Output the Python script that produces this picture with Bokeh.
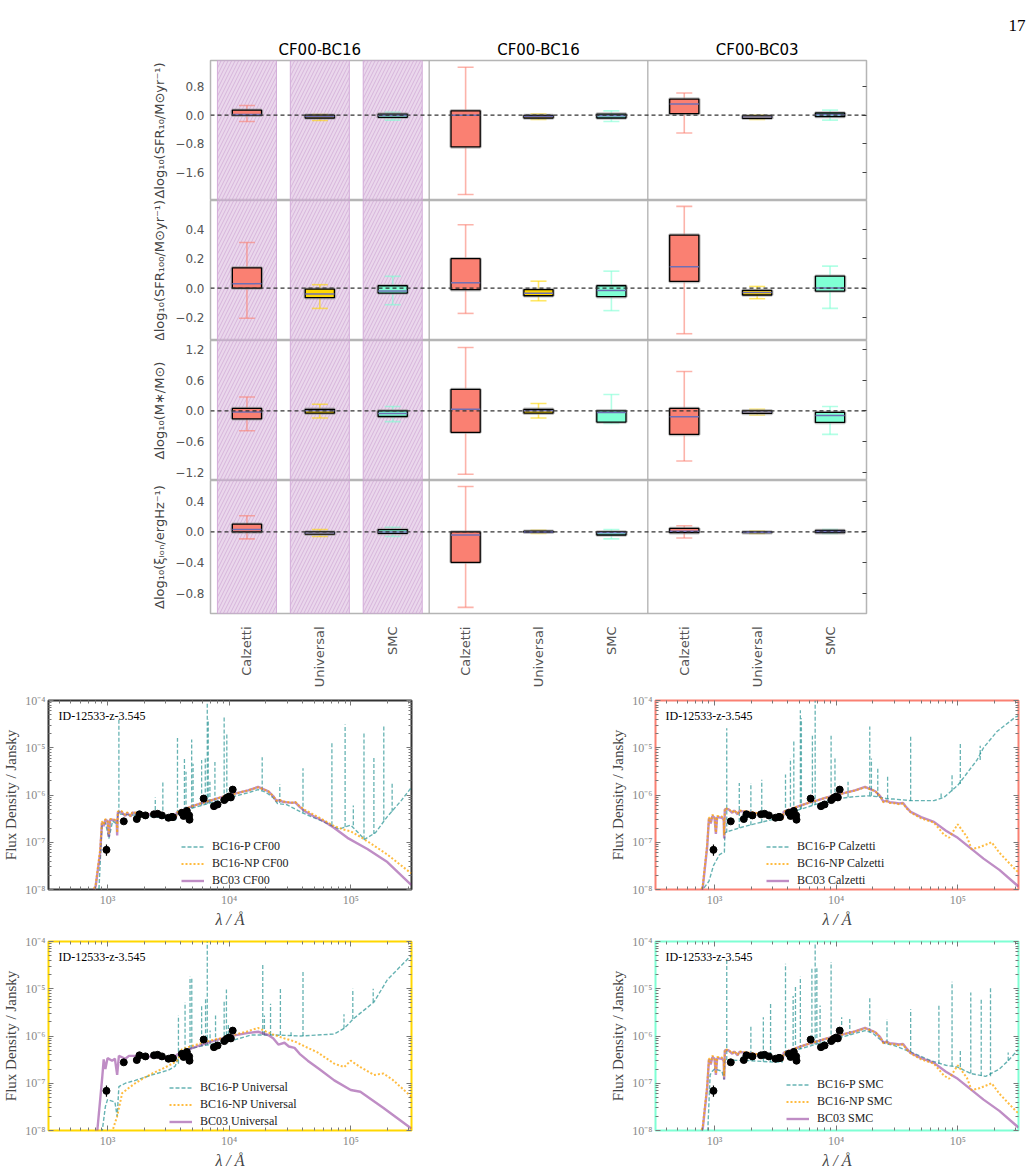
import math
from bokeh.plotting import figure
from bokeh.models import (ColumnDataSource, FixedTicker, LinearAxis, LogAxis, Span, Label,
                          Legend, LegendItem, Range1d, CustomJSTickFormatter,
                          BoxAnnotation, Spacer, Title)
from bokeh.layouts import column, row
from bokeh.transform import dodge
from bokeh.embed import file_html
from bokeh.resources import INLINE

# ======================= DATA: box-plot grid =======================
categories = ["Calzetti", "Universal", "SMC"] * 3
positions = [1, 2, 3, 4, 5, 6, 7, 8, 9]
group_titles = ["CF00-BC16", "CF00-BC16", "CF00-BC03"]
group_centers = [2, 5, 8]
box_colors = ["#FA8072", "#FFD700", "#7FFFD4"] * 3

sfr10_q1 = [0.00, -0.08, -0.06, -0.89, -0.08, -0.08, 0.04, -0.09, -0.04]
sfr10_q3 = [0.14, 0.00, 0.03, 0.12, -0.01, 0.03, 0.45, -0.02, 0.06]
sfr10_med = [0.02, -0.04, -0.01, 0.00, -0.04, -0.02, 0.31, -0.05, 0.01]
sfr10_lo = [-0.18, -0.15, -0.14, -2.22, -0.12, -0.18, -0.50, -0.12, -0.14]
sfr10_hi = [0.27, 0.02, 0.08, 1.34, 0.03, 0.12, 0.62, 0.00, 0.14]

sfr100_q1 = [0.00, -0.065, -0.034, -0.011, -0.052, -0.058, 0.045, -0.047, -0.020]
sfr100_q3 = [0.138, -0.007, 0.016, 0.200, -0.010, 0.016, 0.360, -0.016, 0.081]
sfr100_med = [0.030, -0.040, -0.020, 0.036, -0.035, -0.016, 0.145, -0.030, 0.000]
sfr100_lo = [-0.205, -0.138, -0.113, -0.172, -0.086, -0.153, -0.310, -0.072, -0.138]
sfr100_hi = [0.310, 0.023, 0.080, 0.430, 0.047, 0.115, 0.555, 0.011, 0.149]

mstar_q1 = [-0.156, -0.045, -0.110, -0.420, -0.045, -0.220, -0.460, -0.050, -0.227]
mstar_q3 = [0.047, 0.030, 0.000, 0.420, 0.030, 0.000, 0.047, 0.000, -0.030]
mstar_med = [-0.020, 0.000, -0.050, 0.030, 0.000, -0.030, -0.117, -0.020, -0.090]
mstar_lo = [-0.390, -0.140, -0.210, -1.240, -0.140, -0.245, -0.980, -0.080, -0.460]
mstar_hi = [0.270, 0.130, 0.086, 1.240, 0.145, 0.320, 0.770, 0.030, 0.086]

xi_q1 = [0.000, -0.030, -0.020, -0.395, -0.005, -0.040, -0.010, -0.010, -0.010]
xi_q3 = [0.100, 0.000, 0.030, 0.000, 0.010, 0.000, 0.045, 0.000, 0.020]
xi_med = [0.030, -0.015, 0.000, -0.040, 0.000, -0.010, 0.010, -0.005, 0.005]
xi_lo = [-0.090, -0.060, -0.060, -0.980, -0.020, -0.090, -0.080, -0.020, -0.020]
xi_hi = [0.210, 0.030, 0.060, 0.590, 0.020, 0.030, 0.080, 0.010, 0.030]

row_ticks = [[-1.6, -0.8, 0.0, 0.8], [-0.2, 0.0, 0.2, 0.4],
             [-1.2, -0.6, 0.0, 0.6, 1.2], [-0.8, -0.4, 0.0, 0.4]]
row_ranges = [(-2.39, 1.53), (-0.356, 0.595), (-1.362, 1.376), (-1.06, 0.668)]
row_labels = ["\u0394log\u2081\u2080(SFR\u2081\u2080/M\u2299yr\u207b\u00b9)",
              "\u0394log\u2081\u2080(SFR\u2081\u2080\u2080/M\u2299yr\u207b\u00b9)",
              "\u0394log\u2081\u2080(M\u2217/M\u2299)",
              "\u0394log\u2081\u2080(\u03be\u1d62\u2092\u2099/ergHz\u207b\u00b9)"]
page_number = "17"

# ======================= DATA: SEDs (rest-frame Angstrom, Jansky) =======================
phot_wl = [980, 1360, 1740, 1830, 2050, 2410, 2580, 2800, 3170, 3390, 3450, 4080,
           4220, 4490, 4690, 4720, 6170, 7500, 8030, 9120, 9550, 10000, 10330, 10700]
phot_f = [6.9e-8, 2.77e-7, 3.1e-7, 3.9e-7, 3.7e-7, 3.9e-7, 4.0e-7, 3.7e-7, 3.3e-7, 3.45e-7,
          3.4e-7, 4.2e-7, 3.6e-7, 4.6e-7, 3.7e-7, 3.0e-7, 8.4e-7, 5.8e-7, 6.3e-7, 7.8e-7,
          8.7e-7, 9.3e-7, 8.9e-7, 1.3e-6]
phot_lo = [5.2e-8, 2.6e-7, 2.95e-7, 3.75e-7, 3.55e-7, 3.75e-7, 3.85e-7, 3.55e-7, 3.15e-7, 3.3e-7,
           3.25e-7, 4.0e-7, 3.45e-7, 4.4e-7, 3.55e-7, 2.85e-7, 8.1e-7, 5.6e-7, 6.1e-7, 7.5e-7,
           8.4e-7, 9.0e-7, 8.6e-7, 1.25e-6]
phot_hi = [9.0e-8, 2.95e-7, 3.25e-7, 4.05e-7, 3.85e-7, 4.05e-7, 4.15e-7, 3.85e-7, 3.45e-7, 3.6e-7,
           3.55e-7, 4.4e-7, 3.75e-7, 4.8e-7, 3.85e-7, 3.15e-7, 8.7e-7, 6.0e-7, 6.5e-7, 8.1e-7,
           9.0e-7, 9.6e-7, 9.2e-7, 1.35e-6]

bc03_cf00 = [(700, 5e-9), (800, 1.2e-8), (870, 6e-8), (900, 2.6e-7), (930, 2.2e-7), (960, 3.0e-7),
             (1000, 2.8e-7), (1026, 1.3e-7), (1050, 3.0e-7), (1100, 3.0e-7), (1190, 2.8e-7),
             (1200, 1.4e-7), (1216, 4.3e-7), (1300, 4.4e-7), (1400, 3.6e-7), (1450, 4.2e-7),
             (1550, 3.5e-7), (1600, 4.2e-7), (2000, 4.0e-7), (2500, 3.8e-7), (3000, 3.4e-7),
             (3500, 3.4e-7), (3640, 3.2e-7), (3700, 4.2e-7), (4000, 4.6e-7), (4300, 5.0e-7),
             (5000, 5.8e-7), (6000, 6.8e-7), (7000, 7.6e-7), (8000, 8.5e-7), (10000, 1.0e-6),
             (12000, 1.12e-6), (14300, 1.25e-6), (17300, 1.48e-6), (19500, 1.3e-6), (21000, 1.2e-6),
             (23000, 9.5e-7), (24500, 7.5e-7), (26000, 7.8e-7), (27500, 7.2e-7), (30000, 7.0e-7),
             (33000, 6.8e-7), (35000, 7.0e-7), (38000, 5.6e-7), (41600, 4.6e-7), (50000, 3.5e-7),
             (60600, 2.75e-7), (73200, 2.0e-7), (94000, 1.24e-7), (137000, 7.2e-8),
             (200000, 3.8e-8), (314000, 1.26e-8)]
np_cf00 = [(700, 5e-9), (800, 1.3e-8), (870, 7e-8), (900, 2.8e-7), (930, 2.4e-7), (960, 3.1e-7),
           (1000, 2.9e-7), (1026, 1.5e-7), (1050, 3.1e-7), (1100, 3.1e-7), (1190, 2.9e-7),
           (1200, 1.6e-7), (1216, 4.5e-7), (1300, 4.6e-7), (1400, 3.8e-7), (1450, 4.3e-7),
           (1550, 3.6e-7), (1600, 4.3e-7), (2000, 4.1e-7), (2500, 3.8e-7), (3000, 3.4e-7),
           (3500, 3.4e-7), (3640, 3.2e-7), (3700, 4.2e-7), (4000, 4.7e-7), (4300, 5.0e-7),
           (5000, 5.8e-7), (6000, 6.8e-7), (7000, 7.6e-7), (8000, 8.5e-7), (10000, 1.0e-6),
           (12000, 1.12e-6), (14300, 1.25e-6), (17300, 1.45e-6), (19500, 1.3e-6), (21000, 1.2e-6),
           (23000, 9.5e-7), (24500, 7.6e-7), (26000, 7.9e-7), (27500, 7.3e-7), (30000, 7.1e-7),
           (33000, 6.9e-7), (35000, 7.1e-7), (38000, 5.8e-7), (41600, 4.9e-7), (50000, 3.8e-7),
           (60600, 2.9e-7), (73200, 2.2e-7), (85000, 1.9e-7), (100000, 1.7e-7), (120000, 1.3e-7),
           (150000, 9e-8), (200000, 5.5e-8), (314000, 2.2e-8)]
p_cf00 = [(700, 5e-9), (850, 1.0e-8), (900, 2.2e-7), (960, 2.6e-7), (1026, 1.2e-7), (1100, 2.8e-7),
          (1200, 2.4e-7), (1216, 4.0e-7), (1500, 3.8e-7), (2000, 3.7e-7), (3000, 3.2e-7),
          (3640, 3.0e-7), (3700, 3.9e-7), (5000, 5.3e-7), (7000, 6.8e-7), (10000, 8.8e-7),
          (14000, 1.1e-6), (17300, 1.3e-6), (20000, 1.15e-6), (23000, 8.8e-7), (25000, 6.6e-7),
          (30000, 6.2e-7), (40000, 4.2e-7), (60000, 2.7e-7), (80000, 1.9e-7), (90000, 2.1e-7),
          (100000, 2.3e-7), (110000, 1.8e-7), (130000, 1.15e-7), (160000, 1.6e-7),
          (200000, 3.5e-7), (260000, 7.6e-7), (316000, 1.45e-6)]
lines_cf00 = [(1240, 4.0e-7, 3.9e-5), (2470, 3.6e-7, 8.9e-7), (2850, 3.5e-7, 1.86e-6),
              (3760, 4.0e-7, 1.6e-5), (4290, 4.6e-7, 5.9e-6), (4420, 4.7e-7, 3.1e-6),
              (4920, 5.2e-7, 1.5e-5), (5050, 5.3e-7, 4.6e-6), (5940, 6.0e-7, 5.5e-6),
              (6365, 6.3e-7, 6.3e-6), (6610, 6.5e-7, 9.3e-5), (6736, 6.6e-7, 4.0e-5),
              (6950, 6.8e-7, 1.9e-6), (7640, 7.2e-7, 5.0e-6), (9100, 8.0e-7, 4.6e-5),
              (9570, 8.4e-7, 2.1e-5), (10450, 9.0e-7, 1.05e-6), (18700, 1.25e-6, 6.3e-6),
              (26100, 6.8e-7, 1.66e-6), (40500, 4.2e-7, 3.7e-6), (70000, 2.3e-7, 1.3e-5),
              (89900, 2.1e-7, 3.1e-5), (105000, 2.3e-7, 6.0e-7), (128500, 1.15e-7, 2.1e-5),
              (155000, 1.5e-7, 6.3e-6), (187000, 2.9e-7, 2.8e-5), (219000, 4.4e-7, 1.9e-6)]

bc03_calz = [(700, 5e-9), (800, 1.1e-8), (870, 8e-8), (900, 3.2e-7), (930, 2.5e-7), (960, 3.6e-7),
             (1000, 3.3e-7), (1026, 1.5e-7), (1050, 3.4e-7), (1150, 3.3e-7), (1190, 3.0e-7),
             (1200, 1.2e-7), (1216, 5.0e-7), (1300, 5.0e-7), (1400, 4.2e-7), (1450, 4.7e-7),
             (1550, 3.9e-7), (1600, 4.6e-7), (2000, 4.3e-7), (2500, 3.9e-7), (3000, 3.4e-7),
             (3500, 3.3e-7), (3640, 3.1e-7), (3700, 4.4e-7), (4000, 4.8e-7), (4300, 5.1e-7),
             (5000, 5.9e-7), (6000, 6.9e-7), (7000, 7.7e-7), (8000, 8.6e-7), (10000, 1.0e-6),
             (12000, 1.12e-6), (14300, 1.25e-6), (17300, 1.48e-6), (19500, 1.3e-6), (21000, 1.2e-6),
             (23000, 9.5e-7), (24500, 7.2e-7), (26000, 7.6e-7), (27500, 7.0e-7), (30000, 6.9e-7),
             (33000, 6.6e-7), (35500, 6.8e-7), (38000, 5.4e-7), (41000, 4.4e-7), (50000, 3.4e-7),
             (63700, 2.7e-7), (80000, 1.75e-7), (100000, 1.24e-7), (163000, 4.5e-8),
             (220000, 2.6e-8), (304000, 1.26e-8), (316000, 1.15e-8)]
np_calz = [(700, 5e-9), (800, 1.2e-8), (870, 9e-8), (900, 3.4e-7), (930, 2.7e-7), (960, 3.8e-7),
           (1000, 3.5e-7), (1026, 1.6e-7), (1050, 3.6e-7), (1150, 3.5e-7), (1190, 3.1e-7),
           (1200, 1.4e-7), (1216, 5.2e-7), (1300, 5.1e-7), (1400, 4.3e-7), (1450, 4.8e-7),
           (1550, 4.0e-7), (1600, 4.7e-7), (2000, 4.4e-7), (2500, 3.9e-7), (3000, 3.4e-7),
           (3500, 3.3e-7), (3640, 3.1e-7), (3700, 4.4e-7), (4000, 4.8e-7), (4300, 5.1e-7),
           (5000, 5.9e-7), (6000, 6.9e-7), (7000, 7.7e-7), (8000, 8.6e-7), (10000, 1.0e-6),
           (12000, 1.12e-6), (14300, 1.25e-6), (17300, 1.45e-6), (19500, 1.3e-6), (21000, 1.2e-6),
           (23000, 9.5e-7), (24500, 7.0e-7), (26000, 7.4e-7), (27500, 6.8e-7), (30000, 6.7e-7),
           (33000, 6.4e-7), (35500, 6.6e-7), (38000, 5.2e-7), (41000, 4.3e-7), (50000, 3.2e-7),
           (63700, 2.6e-7), (77000, 1.45e-7), (85000, 1.25e-7), (100000, 2.4e-7), (119000, 1.3e-7),
           (130000, 7.2e-8), (150000, 7.8e-8), (190000, 1.0e-7), (220000, 6e-8), (300000, 2.6e-8),
           (316000, 2.3e-8)]
p_calz = [(700, 5e-9), (800, 1.0e-8), (900, 1.5e-8), (980, 3.2e-8), (1100, 5.5e-8), (1205, 6.2e-8),
          (1216, 1.6e-7), (1300, 1.7e-7), (1700, 2.1e-7), (2200, 2.5e-7), (2800, 2.9e-7),
          (3600, 3.5e-7), (3800, 4.0e-7), (5250, 5.1e-7), (7000, 6.5e-7), (10000, 8.3e-7),
          (14000, 9.2e-7), (18200, 9.6e-7), (22000, 9.2e-7), (26500, 8.3e-7), (30000, 8.2e-7),
          (41000, 7.6e-7), (63700, 7.6e-7), (77000, 8.9e-7), (88000, 1.2e-6), (100000, 1.6e-6),
          (144000, 5.5e-6), (163000, 1.0e-5), (210000, 2.2e-5), (300000, 4.5e-5), (316000, 4.7e-5)]
lines_calz = [(1260, 1.6e-7, 2.6e-5), (1598, 2.0e-7, 1.8e-6), (1990, 2.3e-7, 1.8e-6),
              (2445, 2.6e-7, 2.1e-6), (3834, 4.0e-7, 2.7e-6), (4210, 4.2e-7, 5.9e-6),
              (4487, 4.5e-7, 1.5e-5), (5080, 5.0e-7, 6.2e-5), (5180, 5.0e-7, 4.2e-5),
              (6380, 6.0e-7, 1.8e-5), (6723, 6.2e-7, 1.0e-4), (9090, 8.0e-7, 1.8e-5),
              (9780, 8.4e-7, 5.9e-6), (12530, 9.0e-7, 1.9e-6), (18900, 9.6e-7, 2.8e-5),
              (19500, 9.6e-7, 5.9e-6), (22000, 9.2e-7, 3.6e-6), (26500, 8.3e-7, 2.5e-6),
              (41000, 7.6e-7, 1.8e-5), (73000, 8.9e-7, 1.1e-6), (89800, 1.2e-6, 2.8e-6),
              (105000, 1.7e-6, 1.2e-5), (153000, 5.5e-6, 1.1e-5)]

bc03_univ = [(700, 5e-9), (824, 1e-8), (905, 1.35e-7), (930, 3.2e-7), (960, 2.0e-7), (1000, 3.4e-7),
             (1090, 3.0e-7), (1150, 3.3e-7), (1200, 1.5e-7), (1240, 3.8e-7), (1400, 3.3e-7),
             (1500, 3.8e-7), (1690, 3.8e-7), (2000, 3.7e-7), (2500, 3.6e-7), (3170, 3.2e-7),
             (3600, 3.1e-7), (3700, 4.0e-7), (4080, 4.4e-7), (5000, 5.6e-7), (7000, 7.5e-7),
             (10000, 9.8e-7), (14000, 1.15e-6), (17300, 1.23e-6), (20900, 1.05e-6), (23000, 9e-7),
             (25400, 6.6e-7), (28500, 7.2e-7), (31000, 6.0e-7), (34500, 5.6e-7), (38000, 4.2e-7),
             (44300, 3.0e-7), (55000, 2.0e-7), (73200, 1.15e-7), (100000, 7.2e-8), (120000, 6.6e-8),
             (186000, 3.0e-8), (305000, 1.17e-8), (316000, 1.1e-8)]
np_univ = [(1080, 5e-9), (1100, 1e-8), (1200, 2e-8), (1320, 6.2e-8), (1500, 8e-8), (1690, 1.0e-7),
           (2000, 1.3e-7), (2320, 1.6e-7), (2800, 2.0e-7), (3170, 2.35e-7), (3600, 2.8e-7),
           (3830, 3.2e-7), (4080, 5.2e-7), (5000, 6.2e-7), (7000, 8e-7), (10000, 9.8e-7),
           (14000, 1.25e-6), (17300, 1.48e-6), (20000, 1.25e-6), (23600, 1.05e-6), (28000, 9e-7),
           (34500, 7.7e-7), (42000, 6.0e-7), (53300, 4.5e-7), (73200, 2.6e-7), (88300, 2.2e-7),
           (100000, 3.0e-7), (120000, 2.2e-7), (155000, 1.5e-7), (186000, 1.6e-7), (220000, 1.2e-7),
           (305000, 5.6e-8), (316000, 5.2e-8)]
p_univ = [(880, 5e-9), (905, 1e-8), (960, 3.2e-8), (1000, 4.5e-8), (1150, 4.0e-8), (1200, 2e-8),
          (1240, 8.5e-8), (1400, 1.0e-7), (1690, 1.15e-7), (2320, 1.5e-7), (3170, 1.9e-7),
          (3600, 2.3e-7), (3700, 2.8e-7), (4080, 4.8e-7), (6000, 6.2e-7), (10000, 7.7e-7),
          (15200, 1.05e-6), (23600, 1.05e-6), (38900, 1.0e-6), (73200, 1.1e-6), (88300, 1.45e-6),
          (106000, 2.35e-6), (155000, 5.2e-6), (200000, 1.55e-5), (305000, 4.7e-5), (316000, 4.9e-5)]
lines_univ = [(3830, 2.6e-7, 2.7e-6), (4340, 4.9e-7, 5.1e-6), (4770, 5.3e-7, 1.8e-5),
              (4930, 5.4e-7, 1.8e-5), (5940, 6.1e-7, 4.4e-6), (6400, 6.4e-7, 6.0e-6),
              (6610, 6.5e-7, 1.0e-4), (6970, 6.7e-7, 1.3e-6), (7730, 7.0e-7, 2.7e-6),
              (9100, 7.6e-7, 5.5e-6), (9500, 7.7e-7, 9.6e-6), (9850, 7.8e-7, 1.8e-6),
              (18900, 1.05e-6, 3.4e-5), (19500, 1.05e-6, 2.7e-6), (21900, 1.05e-6, 4.8e-6),
              (26400, 1.05e-6, 1.05e-5), (32300, 1.0e-6, 1.2e-6), (40500, 1.0e-6, 2.5e-5),
              (88000, 1.45e-6, 2.9e-6), (104000, 2.3e-6, 1.0e-5), (153000, 5.2e-6, 1.0e-5)]

bc03_smc = bc03_calz
np_smc = np_calz
p_smc = [(700, 5e-9), (880, 1.0e-8), (920, 1.5e-7), (960, 1.8e-7), (1000, 2.0e-7), (1150, 1.8e-7),
         (1200, 1.2e-7), (1216, 3.1e-7), (2000, 3.0e-7), (3000, 2.8e-7), (3600, 2.8e-7),
         (3700, 4.0e-7), (5000, 5.3e-7), (7000, 6.8e-7), (10000, 8.8e-7), (17300, 1.3e-6),
         (20000, 1.15e-6), (25000, 7.0e-7), (30000, 6.3e-7), (41000, 4.6e-7), (60000, 3.0e-7),
         (80000, 2.4e-7), (100000, 2.2e-7), (128000, 1.6e-7), (170000, 1.4e-7), (220000, 2.0e-7),
         (260000, 3.0e-7), (316000, 5.2e-7)]
lines_smc = [(1260, 3.1e-7, 4.0e-5), (1990, 3.0e-7, 1.7e-6), (2520, 2.9e-7, 2.5e-6),
             (2890, 2.8e-7, 5.0e-6), (3834, 4.1e-7, 3.4e-5), (4430, 4.6e-7, 7.0e-6),
             (4630, 4.8e-7, 1.1e-5), (5080, 5.3e-7, 1.8e-5), (6320, 6.5e-7, 2.9e-5),
             (6723, 6.6e-7, 9.5e-5), (6940, 6.8e-7, 2.7e-5), (7380, 7.1e-7, 4.4e-6),
             (9090, 8.0e-7, 3.7e-5), (11100, 9.5e-7, 2.5e-6), (12950, 1.05e-6, 2.5e-6),
             (18900, 1.2e-6, 6.5e-6), (26200, 7.0e-7, 2.3e-6), (41000, 4.6e-7, 3.7e-6),
             (70000, 2.6e-7, 4.4e-6), (89800, 2.3e-7, 1.4e-5), (105000, 2.2e-7, 4.8e-7),
             (128000, 1.6e-7, 8.3e-6), (156000, 1.45e-7, 6.0e-6), (186000, 1.4e-7, 1.1e-5),
             (260000, 3.0e-7, 4.5e-7)]

sed_panels = [
    ("CF00", p_cf00, np_cf00, bc03_cf00, lines_cf00, "#333333"),
    ("Calzetti", p_calz, np_calz, bc03_calz, lines_calz, "#FA8072"),
    ("Universal", p_univ, np_univ, bc03_univ, lines_univ, "#FFD700"),
    ("SMC", p_smc, np_smc, bc03_smc, lines_smc, "#7FFFD4"),
]
object_id = "ID-12533-z-3.545"

# ======================= helpers =======================
SANS = "DejaVu Sans"
SERIF = "Liberation Serif"

signed_fmt = CustomJSTickFormatter(code="""
const a = Math.abs(tick).toFixed(1);
return (tick < -1e-9 ? "\u2212" : "") + a;
""")
pow_fmt = CustomJSTickFormatter(code="""
const sup = {"-":"\u207b","0":"\u2070","1":"\u00b9","2":"\u00b2","3":"\u00b3","4":"\u2074",
             "5":"\u2075","6":"\u2076","7":"\u2077","8":"\u2078","9":"\u2079"};
const e = Math.round(Math.log10(tick));
return "10" + String(e).split("").map(c => sup[c]).join("");
""")


def blank_fmt():
    return CustomJSTickFormatter(code="return '';")


def box_row(q1, q3, med, lo, hi, yr, ticks, ylabel, first=False, last=False):
    top = 60 if first else 0
    bottom = 70 if last else 0
    p = figure(width=1033, height=140 + top + bottom, title=None,
               output_backend="svg", toolbar_location=None,
               x_range=Range1d(0.5, 9.5), y_range=Range1d(*yr),
               x_axis_location="below" if last else None, y_axis_location="left",
               min_border_left=210, min_border_right=167,
               min_border_top=top, min_border_bottom=bottom)
    p.grid.visible = False
    p.outline_line_color = "#b5b5b5"
    p.outline_line_width = 1.5
    for c in positions[:3]:
        p.add_layout(BoxAnnotation(left=c - 0.405, right=c + 0.405,
                                   fill_color="#dcbde0", fill_alpha=0.6,
                                   line_color="#cfa6d6", line_alpha=0.9, line_width=1,
                                   hatch_pattern="/", hatch_color="#c596ca", hatch_alpha=0.6,
                                   hatch_scale=7, hatch_weight=0.9, level="underlay"))
    for sep in (3.5, 6.5):
        p.add_layout(Span(location=sep, dimension="height", line_color="#aaaaaa", line_width=1.2))
    src = ColumnDataSource(dict(x=positions, q1=q1, q3=q3, med=med, lo=lo, hi=hi, color=box_colors))
    p.segment(x0="x", y0="lo", x1="x", y1="hi", source=src, line_color="color",
              line_alpha=0.6, line_width=1.6)
    for key in ("lo", "hi"):
        p.scatter(x="x", y=key, marker="dash", size=16, source=src, line_color="color",
                  line_alpha=0.6, line_width=1.6)
    p.vbar(x="x", width=0.4, bottom="q1", top="q3", source=src, fill_color=None,
           line_color="#999999", line_alpha=0.6, line_width=3.5)
    p.vbar(x="x", width=0.4, bottom="q1", top="q3", source=src, fill_color="color",
           line_color="black", line_width=1.3)
    p.segment(x0=dodge("x", -0.2), y0="med", x1=dodge("x", 0.2), y1="med", source=src,
              line_color="#6f6fb5", line_width=1.5)
    p.add_layout(Span(location=0, dimension="width", line_color="#333333",
                      line_dash="4 3", line_width=1.2))

    ax = p.yaxis[0]
    ax.ticker = FixedTicker(ticks=ticks, minor_ticks=[])
    ax.formatter = signed_fmt
    ax.axis_label = ylabel
    ax.axis_label_text_font = SANS
    ax.axis_label_text_font_size = "13px"
    ax.axis_label_text_font_style = "normal"
    ax.axis_label_standoff = 5
    ax.axis_line_color = None
    ax.major_tick_line_color = None
    ax.minor_tick_line_color = None
    ax.major_tick_out = 0
    ax.major_tick_in = 0
    ax.major_label_text_font = SANS
    ax.major_label_text_font_size = "12px"
    ax.major_label_text_color = "#555555"
    ax.major_label_standoff = 6

    rax = LinearAxis(ticker=FixedTicker(ticks=ticks, minor_ticks=[]),
                     formatter=blank_fmt(), axis_line_color=None,
                     major_tick_in=4, major_tick_out=0, major_tick_line_color="#444444",
                     minor_tick_line_color=None)
    p.add_layout(rax, "right")

    if first:
        tax = LinearAxis(ticker=FixedTicker(ticks=group_centers, minor_ticks=[]),
                         major_label_overrides={c: t for c, t in zip(group_centers, group_titles)},
                         axis_line_color=None, major_tick_line_color=None,
                         major_tick_in=0, major_tick_out=0,
                         minor_tick_line_color=None, major_label_text_font=SANS,
                         major_label_text_font_size="15px", major_label_text_color="black",
                         major_label_standoff=2)
        p.add_layout(tax, "above")
        p.add_layout(Title(text=page_number, align="left", offset=798,
                           text_font=SERIF, text_font_size="17px", text_font_style="normal",
                           text_color="black", standoff=14), "above")
    if last:
        bx = p.xaxis[0]
        bx.ticker = FixedTicker(ticks=positions, minor_ticks=[])
        bx.major_label_overrides = {c: t for c, t in zip(positions, categories)}
        bx.major_label_orientation = math.pi / 2
        bx.axis_line_color = None
        bx.major_tick_line_color = None
        bx.minor_tick_line_color = None
        bx.major_label_text_font = SANS
        bx.major_label_text_font_size = "13px"
        bx.major_label_text_color = "#555555"
        bx.major_label_standoff = 7
    return p


def style_log_axis(ax, ticks, minor, labels=True):
    ax.ticker = FixedTicker(ticks=ticks, minor_ticks=minor)
    ax.axis_line_color = None
    ax.major_tick_in = 5
    ax.major_tick_out = 0
    ax.minor_tick_in = 3
    ax.minor_tick_out = 0
    ax.major_tick_line_color = "#777777"
    ax.minor_tick_line_color = "#777777"
    if labels:
        ax.formatter = pow_fmt
        ax.major_label_text_font = SERIF
        ax.major_label_text_font_size = "12px"
        ax.major_label_text_color = "#888888"
        ax.major_label_standoff = 3
    else:
        ax.formatter = blank_fmt()
        ax.major_label_standoff = 0


x_major = [1e3, 1e4, 1e5]
x_minor = [m * 10 ** e for e in (2, 3, 4, 5) for m in range(2, 10)]
y_major = [1e-8, 1e-7, 1e-6, 1e-5, 1e-4]
y_minor = [m * 10.0 ** e for e in (-8, -7, -6, -5) for m in range(2, 10)]
legend_offsets = [(133, 0), (111, 0), (121, 0), (131, 3)]


def sed_panel(idx, bl, br, bt, bb):
    name, pc, npc, bc, lines, fcol = sed_panels[idx]
    p = figure(width=bl + 365 + br, height=bt + 195 + bb, title=None,
               output_backend="svg", toolbar_location=None,
               x_axis_type="log", y_axis_type="log",
               x_range=Range1d(327, 3.16e5), y_range=Range1d(1e-8, 1e-4),
               min_border_left=bl, min_border_right=br, min_border_top=bt, min_border_bottom=bb)
    p.grid.visible = False
    p.outline_line_color = fcol
    p.outline_line_width = 2

    r_p = p.line([a for a, b in pc], [b for a, b in pc], line_color="teal", line_alpha=0.6,
                 line_dash="4 2", line_width=1.4)
    p.segment(x0=[a for a, b, c in lines], y0=[b for a, b, c in lines],
              x1=[a for a, b, c in lines], y1=[c for a, b, c in lines],
              line_color="teal", line_alpha=0.6, line_dash="4 2", line_width=1.3)
    r_bc = p.line([a for a, b in bc], [b for a, b in bc], line_color="#8B2F96", line_alpha=0.55,
                  line_width=2.4)
    r_np = p.line([a for a, b in npc], [b for a, b in npc], line_color="#FFA500", line_alpha=0.75,
                  line_dash="2 2", line_width=2.0)
    p.segment(x0=phot_wl, y0=phot_lo, x1=phot_wl, y1=phot_hi, line_color="black", line_width=1.2)
    p.scatter(phot_wl, phot_f, size=7, color="black")

    p.add_layout(Label(x=395, y=4.7e-5, text=object_id, text_font=SERIF,
                       text_font_size="12px", text_color="black", text_baseline="middle"))

    leg = Legend(items=[LegendItem(label="BC16-P " + name, renderers=[r_p]),
                        LegendItem(label="BC16-NP " + name, renderers=[r_np]),
                        LegendItem(label="BC03 " + name, renderers=[r_bc])],
                 location=legend_offsets[idx], padding=0, margin=0, spacing=0,
                 label_height=17, glyph_height=17, glyph_width=23, label_standoff=8,
                 border_line_color=None, background_fill_alpha=0,
                 label_text_font=SERIF, label_text_font_size="12px", label_text_color="#222222")
    p.add_layout(leg, "center")

    style_log_axis(p.xaxis[0], x_major, x_minor)
    style_log_axis(p.yaxis[0], y_major, y_minor)
    p.xaxis[0].axis_label = "\u03bb / \u00c5"
    p.xaxis[0].axis_label_text_font = SERIF
    p.xaxis[0].axis_label_text_font_size = "16px"
    p.xaxis[0].axis_label_text_font_style = "italic"
    p.xaxis[0].axis_label_standoff = 1
    p.yaxis[0].axis_label = "Flux Density / Jansky"
    p.yaxis[0].axis_label_text_font = SERIF
    p.yaxis[0].axis_label_text_font_size = "15px"
    p.yaxis[0].axis_label_text_font_style = "normal"
    p.yaxis[0].axis_label_standoff = 3
    ta = LogAxis()
    style_log_axis(ta, x_major, x_minor, labels=False)
    p.add_layout(ta, "above")
    ra = LogAxis()
    style_log_axis(ra, y_major, y_minor, labels=False)
    p.add_layout(ra, "right")
    return p


# ======================= build =======================
r1 = box_row(sfr10_q1, sfr10_q3, sfr10_med, sfr10_lo, sfr10_hi, row_ranges[0], row_ticks[0],
             row_labels[0], first=True)
r2 = box_row(sfr100_q1, sfr100_q3, sfr100_med, sfr100_lo, sfr100_hi, row_ranges[1], row_ticks[1],
             row_labels[1])
r3 = box_row(mstar_q1, mstar_q3, mstar_med, mstar_lo, mstar_hi, row_ranges[2], row_ticks[2],
             row_labels[2])
r4 = box_row(xi_q1, xi_q3, xi_med, xi_lo, xi_hi, row_ranges[3], row_ticks[3],
             row_labels[3], last=True)

sA = sed_panel(0, 46, 12, 10, 35)
sB = sed_panel(1, 46, 15, 10, 35)
sC = sed_panel(2, 46, 12, 11, 35)
sD = sed_panel(3, 46, 15, 11, 35)

layout = column(r1, r2, r3, r4,
                row(sA, Spacer(width=184, height=240), sB),
                row(sC, Spacer(width=184, height=241), sD))

open("out.html", "w").write(file_html(layout, INLINE))
